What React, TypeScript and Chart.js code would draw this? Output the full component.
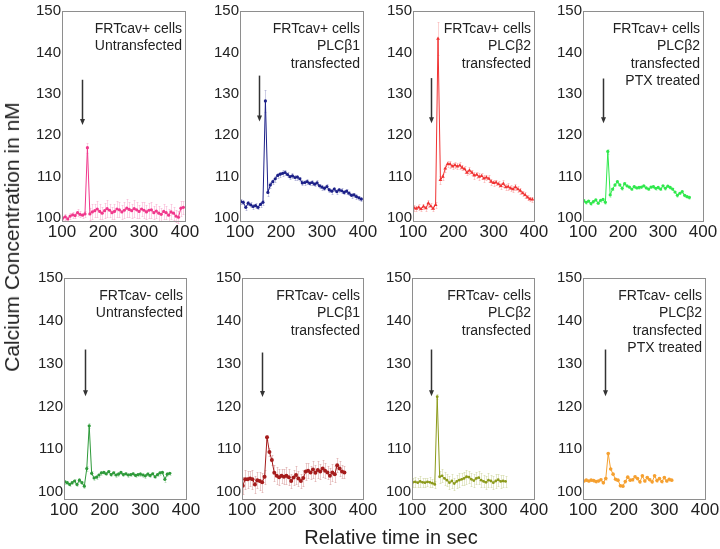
import React, { useEffect, useRef } from "react";
import { Chart, registerables } from "chart.js";

Chart.register(...registerables);

// ---------- DATA ----------
const TIMES = [102, 108, 114, 120, 126, 132, 138, 144, 150, 156, 162, 168, 174, 180, 186, 192, 198, 204, 210, 216, 222, 228, 234, 240, 246, 252, 258, 264, 270, 276, 282, 288, 294, 300, 306, 312, 318, 324, 330, 336, 342, 348, 354, 360, 366, 372, 378, 384, 390, 396];

const X_TICKS = [100, 200, 300, 400];
const Y_TICKS = [100, 110, 120, 130, 140, 150];

const P1_VALUES = [100.0, 100.3, 99.8, 100.5, 100.8, 100.6, 101.3, 100.9, 100.7, 101.0, 117.0, 101.0, 101.5, 101.8, 102.2, 101.6, 101.2, 101.8, 102.3, 101.9, 101.3, 101.6, 102.2, 102.0, 101.5, 101.9, 102.4, 102.1, 101.8, 102.3, 102.0, 101.6, 102.2, 101.9, 101.5, 101.9, 102.0, 101.3, 101.7, 101.2, 100.9, 101.6, 101.3, 100.7, 101.5, 101.2, 100.5, 100.2, 102.4, 102.6];
const P1_ERRORS = [0.6, 0.7, 0.6, 0.8, 0.7, 0.6, 0.8, 0.7, 0.6, 0.7, 1.2, 1.5, 1.8, 1.6, 2.0, 1.7, 1.5, 1.8, 2.0, 1.6, 1.5, 1.7, 2.0, 1.8, 1.6, 1.9, 2.1, 1.8, 1.7, 2.0, 1.9, 1.6, 1.8, 1.9, 1.7, 1.8, 2.0, 1.6, 1.7, 1.8, 1.5, 1.7, 1.6, 1.4, 1.8, 1.6, 1.5, 1.4, 1.8, 1.5];

const P2_VALUES = [104.0, 103.8, 102.6, 103.6, 103.2, 102.8, 103.0, 102.6, 103.3, 103.8, 128.3, 106.2, 108.0, 108.8, 109.5, 110.3, 110.6, 110.8, 111.0, 110.5, 110.0, 110.2, 109.8, 109.9, 109.5, 108.5, 108.6, 108.8, 108.4, 108.6, 108.2, 108.5, 107.8, 107.5, 107.2, 107.6, 106.8, 106.5, 107.0, 106.4, 106.8, 106.6, 106.2, 106.5, 106.0, 105.5, 105.6, 105.2, 104.9, 104.6];
const P2_ERRORS = [0.6, 0.5, 0.6, 0.5, 0.6, 0.5, 0.6, 0.5, 0.6, 0.6, 2.6, 0.8, 0.7, 0.6, 0.7, 0.6, 0.6, 0.7, 0.6, 0.6, 0.5, 0.6, 0.5, 0.6, 0.5, 0.6, 0.5, 0.6, 0.5, 0.6, 0.5, 0.6, 0.5, 0.6, 0.5, 0.6, 0.5, 0.6, 0.5, 0.6, 0.5, 0.6, 0.5, 0.6, 0.5, 0.6, 0.5, 0.6, 0.5, 0.5];

const P3_VALUES = [102.5, 102.3, 102.6, 102.2, 102.8, 102.4, 103.6, 102.9, 102.3, 103.2, 143.3, 109.2, 110.0, 112.0, 113.1, 113.0, 112.5, 112.8, 112.5, 112.7, 112.2, 111.8, 111.0, 111.5, 111.0, 110.3, 110.5, 110.0, 110.2, 109.6, 109.8, 109.5, 108.8, 108.5, 108.6, 108.2, 107.8, 108.3, 107.5, 107.6, 107.2, 107.0, 107.5, 107.0, 106.6, 106.0, 105.6, 105.0, 104.6, 104.5];
const P3_ERRORS = [0.7, 0.6, 0.7, 0.6, 0.7, 0.6, 0.8, 0.7, 0.6, 0.7, 4.0, 0.9, 0.7, 0.8, 0.7, 0.8, 0.7, 0.8, 0.7, 0.8, 0.7, 0.8, 0.7, 0.8, 0.7, 0.8, 0.7, 0.8, 0.7, 0.8, 0.7, 0.8, 0.7, 0.8, 0.7, 0.8, 0.7, 0.8, 0.7, 0.8, 0.7, 0.8, 0.7, 0.8, 0.7, 0.6, 0.7, 0.6, 0.5, 0.5];

const P4_VALUES = [104.2, 103.8, 104.1, 103.5, 104.0, 104.4, 103.6, 104.3, 104.5, 103.8, 116.1, 105.6, 107.0, 108.0, 108.8, 108.0, 107.2, 108.3, 107.8, 107.5, 107.0, 107.6, 107.3, 107.4, 107.5, 107.8, 107.3, 107.0, 107.5, 107.6, 107.2, 107.4, 107.0, 107.8, 107.2, 107.7, 107.4, 107.0, 106.3, 105.5, 106.0, 106.4, 105.5, 105.2, 105.0];
const P4_ERRORS = [0.3, 0.3, 0.3, 0.3, 0.3, 0.3, 0.3, 0.3, 0.3, 0.3, 0.6, 0.4, 0.3, 0.3, 0.3, 0.3, 0.3, 0.3, 0.3, 0.3, 0.3, 0.3, 0.3, 0.3, 0.3, 0.3, 0.3, 0.3, 0.3, 0.3, 0.3, 0.3, 0.3, 0.3, 0.3, 0.3, 0.3, 0.3, 0.3, 0.3, 0.3, 0.3, 0.3, 0.3, 0.3];

const P5_VALUES = [102.4, 102.2, 101.8, 102.2, 102.6, 101.8, 102.8, 102.2, 101.4, 105.5, 115.5, 104.4, 103.3, 103.5, 104.0, 104.5, 104.6, 104.3, 104.8, 104.1, 104.5, 104.0, 104.2, 104.6, 104.1, 104.3, 104.0, 104.1, 104.3, 103.9, 104.1, 104.2, 104.0, 103.8, 104.2, 103.9, 104.3, 103.6, 104.1, 104.5, 104.6, 103.0, 104.2, 104.4];
const P5_ERRORS = [0.4, 0.4, 0.4, 0.4, 0.4, 0.4, 0.4, 0.4, 0.4, 0.5, 0.6, 0.5, 0.4, 0.4, 0.4, 0.4, 0.4, 0.4, 0.4, 0.4, 0.4, 0.4, 0.4, 0.4, 0.4, 0.4, 0.4, 0.4, 0.4, 0.4, 0.4, 0.4, 0.4, 0.4, 0.4, 0.4, 0.4, 0.4, 0.4, 0.4, 0.4, 0.6, 0.4, 0.4];

const P6_VALUES = [101.5, 103.0, 103.0, 103.2, 103.0, 101.8, 102.8, 102.6, 102.3, 103.6, 112.8, 109.4, 107.5, 104.5, 103.8, 103.5, 103.8, 103.6, 103.8, 103.5, 102.6, 103.4, 104.0, 103.2, 102.6, 103.3, 104.8, 105.0, 104.6, 105.3, 104.5, 105.2, 104.8, 105.5, 105.0, 104.6, 103.8, 104.6, 104.2, 106.3, 105.5, 104.8, 104.6];
const P6_ERRORS = [2.0, 2.2, 2.0, 1.8, 2.2, 2.0, 1.8, 2.0, 2.2, 1.6, 0.6, 1.0, 1.2, 1.8, 2.0, 1.8, 1.6, 1.8, 2.0, 1.8, 1.6, 1.8, 2.0, 1.8, 1.6, 1.8, 2.0, 1.8, 1.6, 2.0, 1.8, 2.0, 1.8, 2.0, 1.8, 1.6, 1.8, 2.0, 1.8, 1.6, 1.8, 1.6, 1.4];

const P7_VALUES = [102.3, 102.4, 102.2, 102.5, 102.3, 102.2, 102.4, 102.3, 102.1, 101.8, 122.3, 103.6, 103.8, 103.2, 102.8, 102.2, 102.6, 102.0, 102.5, 102.8, 103.0, 103.2, 103.6, 103.5, 103.0, 102.7, 103.2, 103.4, 102.8, 102.5, 102.3, 102.8, 102.6, 102.2, 102.6, 102.9, 102.5, 102.6, 102.5];
const P7_ERRORS = [1.0, 1.1, 1.0, 1.2, 1.0, 1.1, 1.0, 1.2, 1.0, 0.8, 0.5, 1.4, 1.5, 1.6, 1.4, 1.5, 1.6, 1.4, 1.5, 1.6, 1.4, 1.5, 1.6, 1.4, 1.5, 1.6, 1.4, 1.5, 1.6, 1.4, 1.5, 1.6, 1.4, 1.5, 1.6, 1.4, 1.5, 1.4, 1.2];

const P8_VALUES = [102.6, 102.8, 102.6, 102.8, 102.7, 102.5, 102.6, 102.9, 102.2, 103.2, 109.0, 105.4, 104.2, 103.0, 102.8, 101.5, 101.4, 102.5, 103.5, 102.8, 102.9, 103.6, 103.2, 102.4, 103.8, 102.6, 103.4, 102.9, 102.4, 103.8, 102.7, 103.2, 102.5, 103.4, 102.6, 103.0, 102.8];
const P8_ERRORS = [0.3, 0.3, 0.3, 0.3, 0.3, 0.3, 0.3, 0.3, 0.3, 0.3, 0.4, 0.3, 0.3, 0.3, 0.3, 0.3, 0.3, 0.3, 0.3, 0.3, 0.3, 0.3, 0.3, 0.3, 0.3, 0.3, 0.3, 0.3, 0.3, 0.3, 0.3, 0.3, 0.3, 0.3, 0.3, 0.3, 0.3];

const PANEL_VALUES = [P1_VALUES, P2_VALUES, P3_VALUES, P4_VALUES, P5_VALUES, P6_VALUES, P7_VALUES, P8_VALUES];
const PANEL_ERRORS = [P1_ERRORS, P2_ERRORS, P3_ERRORS, P4_ERRORS, P5_ERRORS, P6_ERRORS, P7_ERRORS, P8_ERRORS];

// arrow (stimulus) position: x, y start, y end
const ARROW_X = [149, 146, 145, 151, 152, 149, 147, 153];
const ARROW_Y_START = [133.4, 134.4, 133.8, 133.7, 133.3, 132.6, 133.3, 133.3];
const ARROW_Y_END = [122.5, 123.3, 122.9, 122.9, 122.4, 122.2, 122.4, 122.4];

const PANEL_LABELS = [
  ["FRTcav+ cells", "Untransfected"],
  ["FRTcav+ cells", "PLCβ1", "transfected"],
  ["FRTcav+ cells", "PLCβ2", "transfected"],
  ["FRTcav+ cells", "PLCβ2", "transfected", "PTX treated"],
  ["FRTcav- cells", "Untransfected"],
  ["FRTcav- cells", "PLCβ1", "transfected"],
  ["FRTcav- cells", "PLCβ2", "transfected"],
  ["FRTcav- cells", "PLCβ2", "transfected", "PTX treated"],
];

const Y_TITLE = "Calcium Concentration in nM";
const X_TITLE = "Relative time in sec";

// ---------- STYLE / LAYOUT ----------
const COLORS = ["#f0388c", "#1c2088", "#f03232", "#2fe84c", "#2e9a3a", "#a51c1c", "#8c9a1a", "#f5a030"];
const POINT_STYLES = ["circle", "circle", "triangle", "circle", "circle", "circle", "circle", "circle"];
const POINT_RADII = [1.6, 1.6, 2.2, 1.6, 1.6, 2.0, 1.4, 1.8];

const BOXES = [
  { L: 62, R: 185, T: 11, B: 221, min: 99.3 },
  { L: 240, R: 363, T: 11, B: 221, min: 99.3 },
  { L: 413, R: 534, T: 11, B: 221, min: 99.3 },
  { L: 583, R: 703, T: 11, B: 221, min: 99.3 },
  { L: 64, R: 186, T: 278, B: 499, min: 98.4 },
  { L: 242, R: 363, T: 278, B: 499, min: 98.4 },
  { L: 412, R: 534, T: 278, B: 499, min: 98.4 },
  { L: 583, R: 705, T: 278, B: 499, min: 98.4 },
];
const PADL = 44;
const PADR = 24;
const PADT = 12;
const PADB = 30;
const FONT = "'Liberation Sans', Arial, Helvetica, sans-serif";

const boxPlugin = {
  id: "boxBorder",
  afterDraw(chart: any) {
    const { ctx, chartArea: a } = chart;
    ctx.save();
    ctx.strokeStyle = "#8e8e8e";
    ctx.lineWidth = 1;
    ctx.strokeRect(Math.round(a.left) + 0.5, Math.round(a.top) + 0.5, Math.round(a.right - a.left), Math.round(a.bottom - a.top));
    ctx.restore();
  },
};

const errorPlugin = {
  id: "errorBars",
  beforeDatasetsDraw(chart: any) {
    const { ctx } = chart;
    const ys = chart.scales.y;
    const xs = chart.scales.x;
    chart.data.datasets.forEach((ds: any) => {
      if (!ds.errors) return;
      ctx.save();
      ctx.strokeStyle = ds.borderColor;
      ctx.globalAlpha = 0.22;
      ctx.lineWidth = 1;
      ds.data.forEach((p: any, i: number) => {
        const e = ds.errors[i];
        const x = Math.round(xs.getPixelForValue(p.x)) + 0.5;
        const y1 = Math.round(ys.getPixelForValue(p.y - e)) + 0.5;
        const y2 = Math.round(ys.getPixelForValue(p.y + e)) + 0.5;
        ctx.beginPath();
        ctx.moveTo(x, y1);
        ctx.lineTo(x, y2);
        ctx.moveTo(x - 1, y1);
        ctx.lineTo(x + 1, y1);
        ctx.moveTo(x - 1, y2);
        ctx.lineTo(x + 1, y2);
        ctx.stroke();
      });
      ctx.restore();
    });
  },
};

const annotatePlugin = {
  id: "annotate",
  afterDraw(chart: any) {
    const { ctx, chartArea: a } = chart;
    const o = chart.options.plugins.annotate;
    const xs = chart.scales.x;
    const ys = chart.scales.y;
    ctx.save();
    // text
    ctx.fillStyle = "#222";
    ctx.font = `14px ${FONT}`;
    ctx.textAlign = "right";
    ctx.textBaseline = "middle";
    o.lines.forEach((t: string, i: number) => {
      ctx.fillText(t, a.right - 3, a.top + 18 + i * 17.5);
    });
    // arrow
    const x = Math.round(xs.getPixelForValue(o.arrowX)) + 0.5;
    const y1 = ys.getPixelForValue(o.arrowY1);
    const y2 = ys.getPixelForValue(o.arrowY2);
    ctx.strokeStyle = "#333";
    ctx.fillStyle = "#333";
    ctx.lineWidth = 1.5;
    ctx.beginPath();
    ctx.moveTo(x, y1);
    ctx.lineTo(x, y2 - 5);
    ctx.stroke();
    ctx.beginPath();
    ctx.moveTo(x - 2.5, y2 - 6);
    ctx.lineTo(x + 2.5, y2 - 6);
    ctx.lineTo(x, y2);
    ctx.closePath();
    ctx.fill();
    ctx.restore();
  },
};

function makeConfig(i: number): any {
  const box = BOXES[i];
  const values = PANEL_VALUES[i];
  return {
    type: "line",
    data: {
      datasets: [
        {
          data: values.map((v, k) => ({ x: TIMES[k], y: v })),
          errors: PANEL_ERRORS[i],
          borderColor: COLORS[i],
          backgroundColor: COLORS[i],
          pointBackgroundColor: COLORS[i],
          pointBorderColor: COLORS[i],
          pointBorderWidth: 0,
          pointRadius: POINT_RADII[i],
          pointStyle: POINT_STYLES[i],
          borderWidth: 1,
          tension: 0,
          fill: false,
        },
      ],
    },
    options: {
      animation: false,
      responsive: false,
      events: [],
      layout: { padding: { left: 0, right: PADR, top: PADT, bottom: 0 } },
      plugins: {
        legend: { display: false },
        tooltip: { enabled: false },
        annotate: {
          lines: PANEL_LABELS[i],
          arrowX: ARROW_X[i],
          arrowY1: ARROW_Y_START[i],
          arrowY2: ARROW_Y_END[i],
        },
      },
      scales: {
        x: {
          type: "linear",
          min: 100,
          max: 400,
          grid: { display: false, drawTicks: false },
          border: { display: false },
          afterBuildTicks: (s: any) => {
            s.ticks = X_TICKS.map((v) => ({ value: v }));
          },
          afterFit: (s: any) => {
            s.height = PADB;
          },
          ticks: {
            color: "#222",
            font: { size: 17, family: FONT },
            padding: 1,
            maxRotation: 0,
          },
        },
        y: {
          type: "linear",
          min: box.min,
          max: 150,
          grid: { display: false, drawTicks: false },
          border: { display: false },
          afterBuildTicks: (s: any) => {
            s.ticks = Y_TICKS.map((v) => ({ value: v }));
          },
          afterFit: (s: any) => {
            s.width = PADL;
          },
          ticks: {
            color: "#222",
            font: { size: 15, family: FONT },
            padding: 1,
          },
        },
      },
    },
    plugins: [errorPlugin, boxPlugin, annotatePlugin],
  };
}

export default function App() {
  const refs = useRef<(HTMLCanvasElement | null)[]>([]);

  useEffect(() => {
    const charts = BOXES.map((_, i) => new Chart(refs.current[i] as HTMLCanvasElement, makeConfig(i)));
    return () => charts.forEach((c) => c.destroy());
  }, []);

  return (
    <div
      style={{
        position: "fixed",
        left: 0,
        top: 0,
        width: 720,
        height: 549,
        background: "#fff",
        fontFamily: FONT,
        color: "#222",
        overflow: "hidden",
      }}
    >
      {BOXES.map((b, i) => {
        const w = b.R - b.L + PADL + PADR;
        const h = b.B - b.T + PADT + PADB;
        return (
          <canvas
            key={i}
            ref={(el) => {
              refs.current[i] = el;
            }}
            width={w}
            height={h}
            style={{ position: "absolute", left: b.L - PADL, top: b.T - PADT, width: w, height: h }}
          />
        );
      })}
      <div
        style={{
          position: "absolute",
          left: 12,
          top: 237,
          transform: "translate(-50%, -50%) rotate(-90deg)",
          whiteSpace: "nowrap",
          fontSize: 21,
          lineHeight: "24px",
        }}
      >
        {Y_TITLE}
      </div>
      <div
        style={{
          position: "absolute",
          left: 391,
          top: 537,
          transform: "translate(-50%, -50%)",
          whiteSpace: "nowrap",
          fontSize: 20,
          lineHeight: "24px",
        }}
      >
        {X_TITLE}
      </div>
    </div>
  );
}
